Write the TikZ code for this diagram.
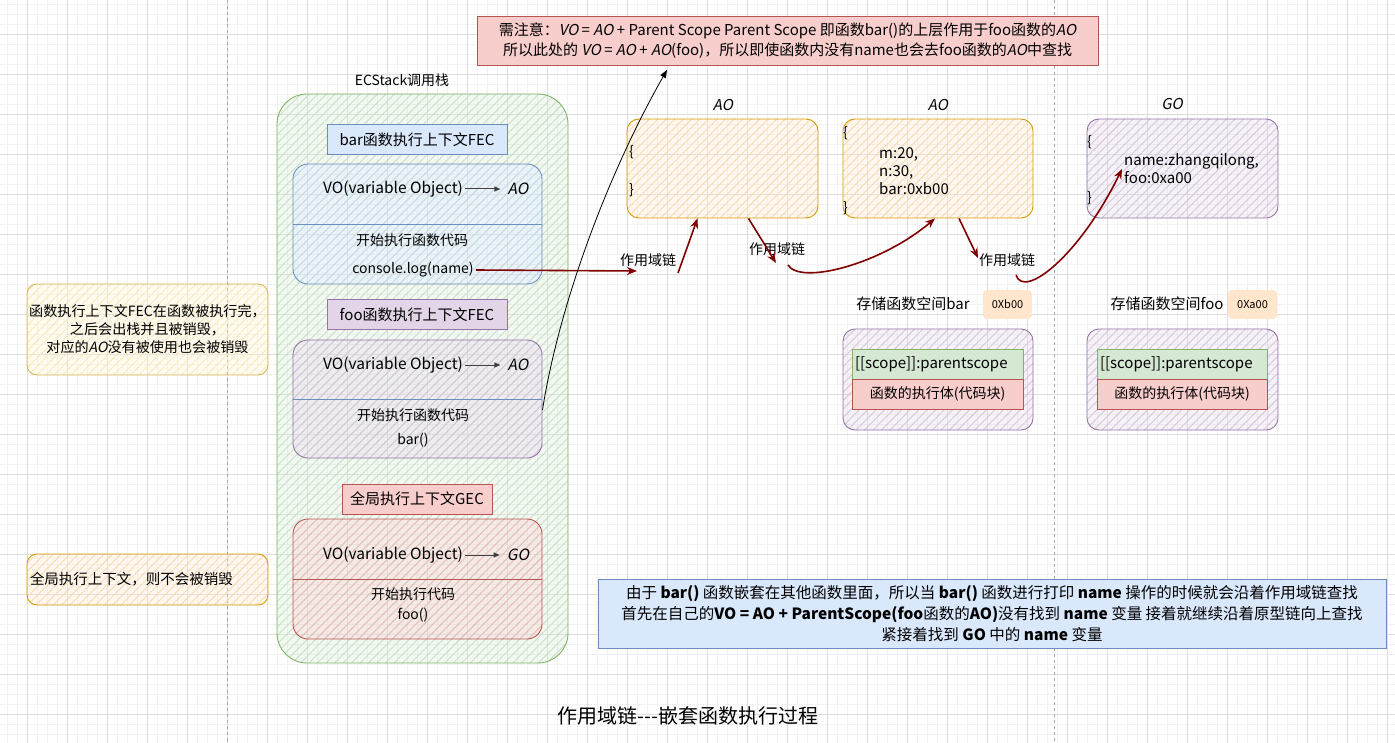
\documentclass[tikz,border=0pt]{standalone}
\usepackage{fontspec}
\setmainfont{Noto Sans CJK SC}[AutoFakeSlant=0.2]
\usetikzlibrary{arrows.meta,patterns.meta}

\definecolor{greenfill}{HTML}{D5E8D4}
\definecolor{greenline}{HTML}{82B366}
\definecolor{bluefill}{HTML}{DAE8FC}
\definecolor{blueline}{HTML}{6C8EBF}
\definecolor{purplefill}{HTML}{E1D5E7}
\definecolor{purpleline}{HTML}{9673A6}
\definecolor{redfill}{HTML}{F8CECC}
\definecolor{redline}{HTML}{B85450}
\definecolor{orangefill}{HTML}{FFE6CC}
\definecolor{orangeline}{HTML}{D79B00}
\definecolor{yellowfill}{HTML}{FFF2CC}
\definecolor{yellowline}{HTML}{D6B656}
\definecolor{chainred}{HTML}{7F0000}

\begin{document}
\begin{tikzpicture}
    [x=1pt,y=-1pt,
     every node/.style={inner sep=2pt,font=\fontsize{14}{17}\selectfont},
     big/.style={font=\fontsize{15}{18}\selectfont},
     vofont/.style={font=\fontsize{15.5}{18}\selectfont},
     hatch/.style 2 args={draw=#2,line width=0.9pt,preaction={fill=#1,fill opacity=0.3},
       pattern={Lines[angle=45,distance=6pt,line width=0.9pt]},pattern color=#1!85!#2},
     plain/.style 2 args={draw=#2,fill=#1,line width=0.9pt},
     chain/.style={draw=chainred,line width=1.6pt,-{Stealth[length=10pt,width=8pt]}},
     voarrow/.style={draw=black!75,line width=1pt,-{Triangle[length=6pt,width=5pt]},shorten >=5pt},
     gridminor/.style={draw=black!5,line width=0.8pt},
     gridmajor/.style={draw=black!13,line width=1pt}]
    \useasboundingbox (0,0) rectangle (1395,743);

    % background grid
    \foreach \gx in {7.5,17.5,...,1395} \draw[gridminor] (\gx,0) -- (\gx,743);
    \foreach \gy in {4.5,14.5,...,743} \draw[gridminor] (0,\gy) -- (1395,\gy);
    \foreach \gx in {27.5,67.5,...,1395} \draw[gridmajor] (\gx,0) -- (\gx,743);
    \foreach \gy in {34.5,74.5,...,743} \draw[gridmajor] (0,\gy) -- (1395,\gy);
    \draw[dashed,black!35] (227.5,0) -- (227.5,743);
    \draw[dashed,black!35] (1054.5,0) -- (1054.5,743);

    % note on top
    \node[plain={redfill}{redline},minimum width=621pt,minimum height=49pt,align=center,
          font=\fontsize{15}{20}\selectfont] (note) at (787.5,40.5)
      {需注意：\textit{VO} = \textit{AO} + Parent Scope Parent Scope 即函数bar()的上层作用于foo函数的\textit{AO}\\
       所以此处的 \textit{VO} = \textit{AO} + \textit{AO}(foo)，所以即使函数内没有name也会去foo函数的\textit{AO}中查找};

    % ECStack
    \node (stacklabel) at (402,80) {ECStack调用栈};
    \node[hatch={greenfill}{greenline},rounded corners=30pt,minimum width=291pt,minimum height=569pt] (stack) at (422.5,378.5) {};

    \node[plain={bluefill}{blueline},minimum width=180pt,minimum height=30pt,big] (barfec) at (417,139.5) {bar函数执行上下文FEC};
    \node[hatch={bluefill}{blueline},rounded corners=15pt,minimum width=249pt,minimum height=120pt] (barvo) at (417.5,224) {};
    \draw[blueline,line width=0.9pt] (barvo.west) -- (barvo.east);
    \node[vofont] (barvar) at (393,189) {VO(variable Object)};
    \node[font=\fontsize{15.5}{18}\selectfont\itshape] (barao) at (518,189) {AO};
    \draw[voarrow] (barvar) -- (barao);
    \node (barrun) at (412,240) {开始执行函数代码};
    \node (barlog) at (413,270) {console.log(name)};

    \node[plain={purplefill}{purpleline},minimum width=180pt,minimum height=30pt,big] (foofec) at (417,314.5) {foo函数执行上下文FEC};
    \node[hatch={purplefill}{purpleline},rounded corners=15pt,minimum width=249pt,minimum height=118pt] (foovo) at (417.5,399) {};
    \draw[blueline,line width=0.8pt] (foovo.west) -- (foovo.east);
    \node[vofont] (foovar) at (393,365) {VO(variable Object)};
    \node[font=\fontsize{15.5}{18}\selectfont\itshape] (fooao) at (518,365) {AO};
    \draw[voarrow] (foovar) -- (fooao);
    \node (foorun) at (413,415) {开始执行函数代码};
    \node (foocall) at (413,440) {bar()};

    \node[plain={redfill}{redline},minimum width=150pt,minimum height=30pt,big] (gec) at (417,499) {全局执行上下文GEC};
    \node[hatch={redfill}{redline},rounded corners=15pt,minimum width=249pt,minimum height=120pt] (gecvo) at (417.5,579) {};
    \draw[redline,line width=0.9pt] (gecvo.west) -- (gecvo.east);
    \node[vofont] (gecvar) at (393,555) {VO(variable Object)};
    \node[font=\fontsize{15.5}{18}\selectfont\itshape] (gecgo) at (518,555) {GO};
    \draw[voarrow] (gecvar) -- (gecgo);
    \node (gecrun) at (413,594) {开始执行代码};
    \node (geccall) at (413,615) {foo()};

    % AO and GO objects
    \node[font=\fontsize{15}{18}\selectfont\itshape] (aotitle1) at (723,105) {AO};
    \node[hatch={orangefill}{orangeline},rounded corners=12pt,minimum width=191pt,minimum height=99pt] (ao1) at (722.5,168.5) {};
    \node[anchor=west] (ao1open) at (627,152) {\{};
    \node[anchor=west] (ao1close) at (627,190) {\}};

    \node[font=\fontsize{15}{18}\selectfont\itshape] (aotitle2) at (938,105) {AO};
    \node[hatch={orangefill}{orangeline},rounded corners=12pt,minimum width=190pt,minimum height=99pt] (ao2) at (938,168.5) {};
    \node[anchor=west] (ao2open) at (841,133) {\{};
    \node[anchor=west,align=left,font=\fontsize{15}{18}\selectfont] (ao2vars) at (877,171) {m:20,\\n:30,\\bar:0xb00};
    \node[anchor=west] (ao2close) at (841,208) {\}};

    \node[font=\fontsize{15}{18}\selectfont\itshape] (gotitle) at (1172,104) {GO};
    \node[hatch={purplefill}{purpleline},rounded corners=12pt,minimum width=191pt,minimum height=99pt] (go) at (1182.5,168.5) {};
    \node[anchor=west] (goopen) at (1085,142) {\{};
    \node[anchor=west,align=left,font=\fontsize{15}{18}\selectfont] (govars) at (1122,169) {name:zhangqilong,\\foo:0xa00};
    \node[anchor=west] (goclose) at (1085,198) {\}};

    % function spaces
    \node[big] (barspace) at (913,304) {存储函数空间bar};
    \node[fill=orangefill,rounded corners=4pt,minimum width=49pt,minimum height=29pt,font=\fontsize{11}{13}\selectfont] (baraddr) at (1007.5,304.5) {0Xb00};
    \node[hatch={purplefill}{purpleline},rounded corners=12pt,minimum width=190pt,minimum height=101pt] (barmem) at (938,379.5) {};
    \node[plain={greenfill}{greenline},minimum width=171pt,minimum height=30pt,text width=165pt,align=left,big] (barscope) at (937.5,364) {[[scope]]:parentscope};
    \node[plain={redfill}{redline},minimum width=171pt,minimum height=30pt] (barbody) at (937.5,394) {函数的执行体(代码块)};

    \node[big] (foospace) at (1167,304) {存储函数空间foo};
    \node[fill=orangefill,rounded corners=4pt,minimum width=49pt,minimum height=29pt,font=\fontsize{11}{13}\selectfont] (fooaddr) at (1252.5,304.5) {0Xa00};
    \node[hatch={purplefill}{purpleline},rounded corners=12pt,minimum width=191pt,minimum height=101pt] (foomem) at (1182.5,379.5) {};
    \node[plain={greenfill}{greenline},minimum width=170pt,minimum height=30pt,text width=164pt,align=left,big] (fooscope) at (1182,364) {[[scope]]:parentscope};
    \node[plain={redfill}{redline},minimum width=170pt,minimum height=30pt] (foobody) at (1182,394) {函数的执行体(代码块)};

    % side notes
    \node[hatch={yellowfill}{yellowline},rounded corners=10pt,minimum width=241pt,minimum height=91pt,align=center,
          font=\fontsize{14.1}{18}\selectfont] (fecnote) at (147.5,329.5)
      {函数执行上下文FEC在函数被执行完，\\之后会出栈并且被销毁，\\对应的\textit{AO}没有被使用也会被销毁};
    \node[hatch={orangefill}{orangeline},rounded corners=10pt,minimum width=241pt,minimum height=51pt,text width=235pt,align=left,
          font=\fontsize{14.5}{17}\selectfont] (gecnote) at (147.5,579.5) {全局执行上下文，则不会被销毁};

    \node[plain={bluefill}{blueline},minimum width=788pt,minimum height=69pt,align=center,
          font=\fontsize{15.5}{21}\selectfont] (chainnote) at (992,613.5)
      {由于 \textbf{bar()} 函数嵌套在其他函数里面，所以当 \textbf{bar()} 函数进行打印 \textbf{name} 操作的时候就会沿着作用域链查找\\
       首先在自己的\textbf{VO = AO + ParentScope(foo}函数的\textbf{AO)}没有找到 \textbf{name} 变量 接着就继续沿着原型链向上查找\\
       紧接着找到 \textbf{GO} 中的 \textbf{name} 变量};

    \node[font=\fontsize{20}{24}\selectfont] (caption) at (688,716) {作用域链-{}-{}-嵌套函数执行过程};

    % scope chain
    \node (chain1) at (648,260) {作用域链};
    \node (chain2) at (777,249) {作用域链};
    \node (chain3) at (1007,260) {作用域链};
    \coordinate (logend) at (637,271);
    \coordinate (up1) at (678,273);
    \coordinate (down1) at (776,263);
    \coordinate (curve1) at (788,265);
    \coordinate (down2) at (978,258);
    \coordinate (curve2) at (1016,275);

    \draw[chain] (barlog.east) -- (logend);
    \draw[chain] (up1) -- ([xshift=-25pt]ao1.south);
    \draw[chain] ([xshift=26pt]ao1.south) -- (down1);
    \draw[chain] (curve1) .. controls (800,285) and (880,265) .. ([xshift=-3pt]ao2.south);
    \draw[chain] ([xshift=21pt]ao2.south) -- (down2);
    \draw[chain] (curve2) .. controls (1024,300) and (1080,255) .. (govars.west);

    \draw[line width=0.8pt,-{Triangle[length=8pt,width=6pt]},shorten >=5pt]
      ([yshift=-11pt]foovo.east) .. controls (560,300) and (610,170) .. ([xshift=-118pt]note.south);
\end{tikzpicture}
\end{document}
